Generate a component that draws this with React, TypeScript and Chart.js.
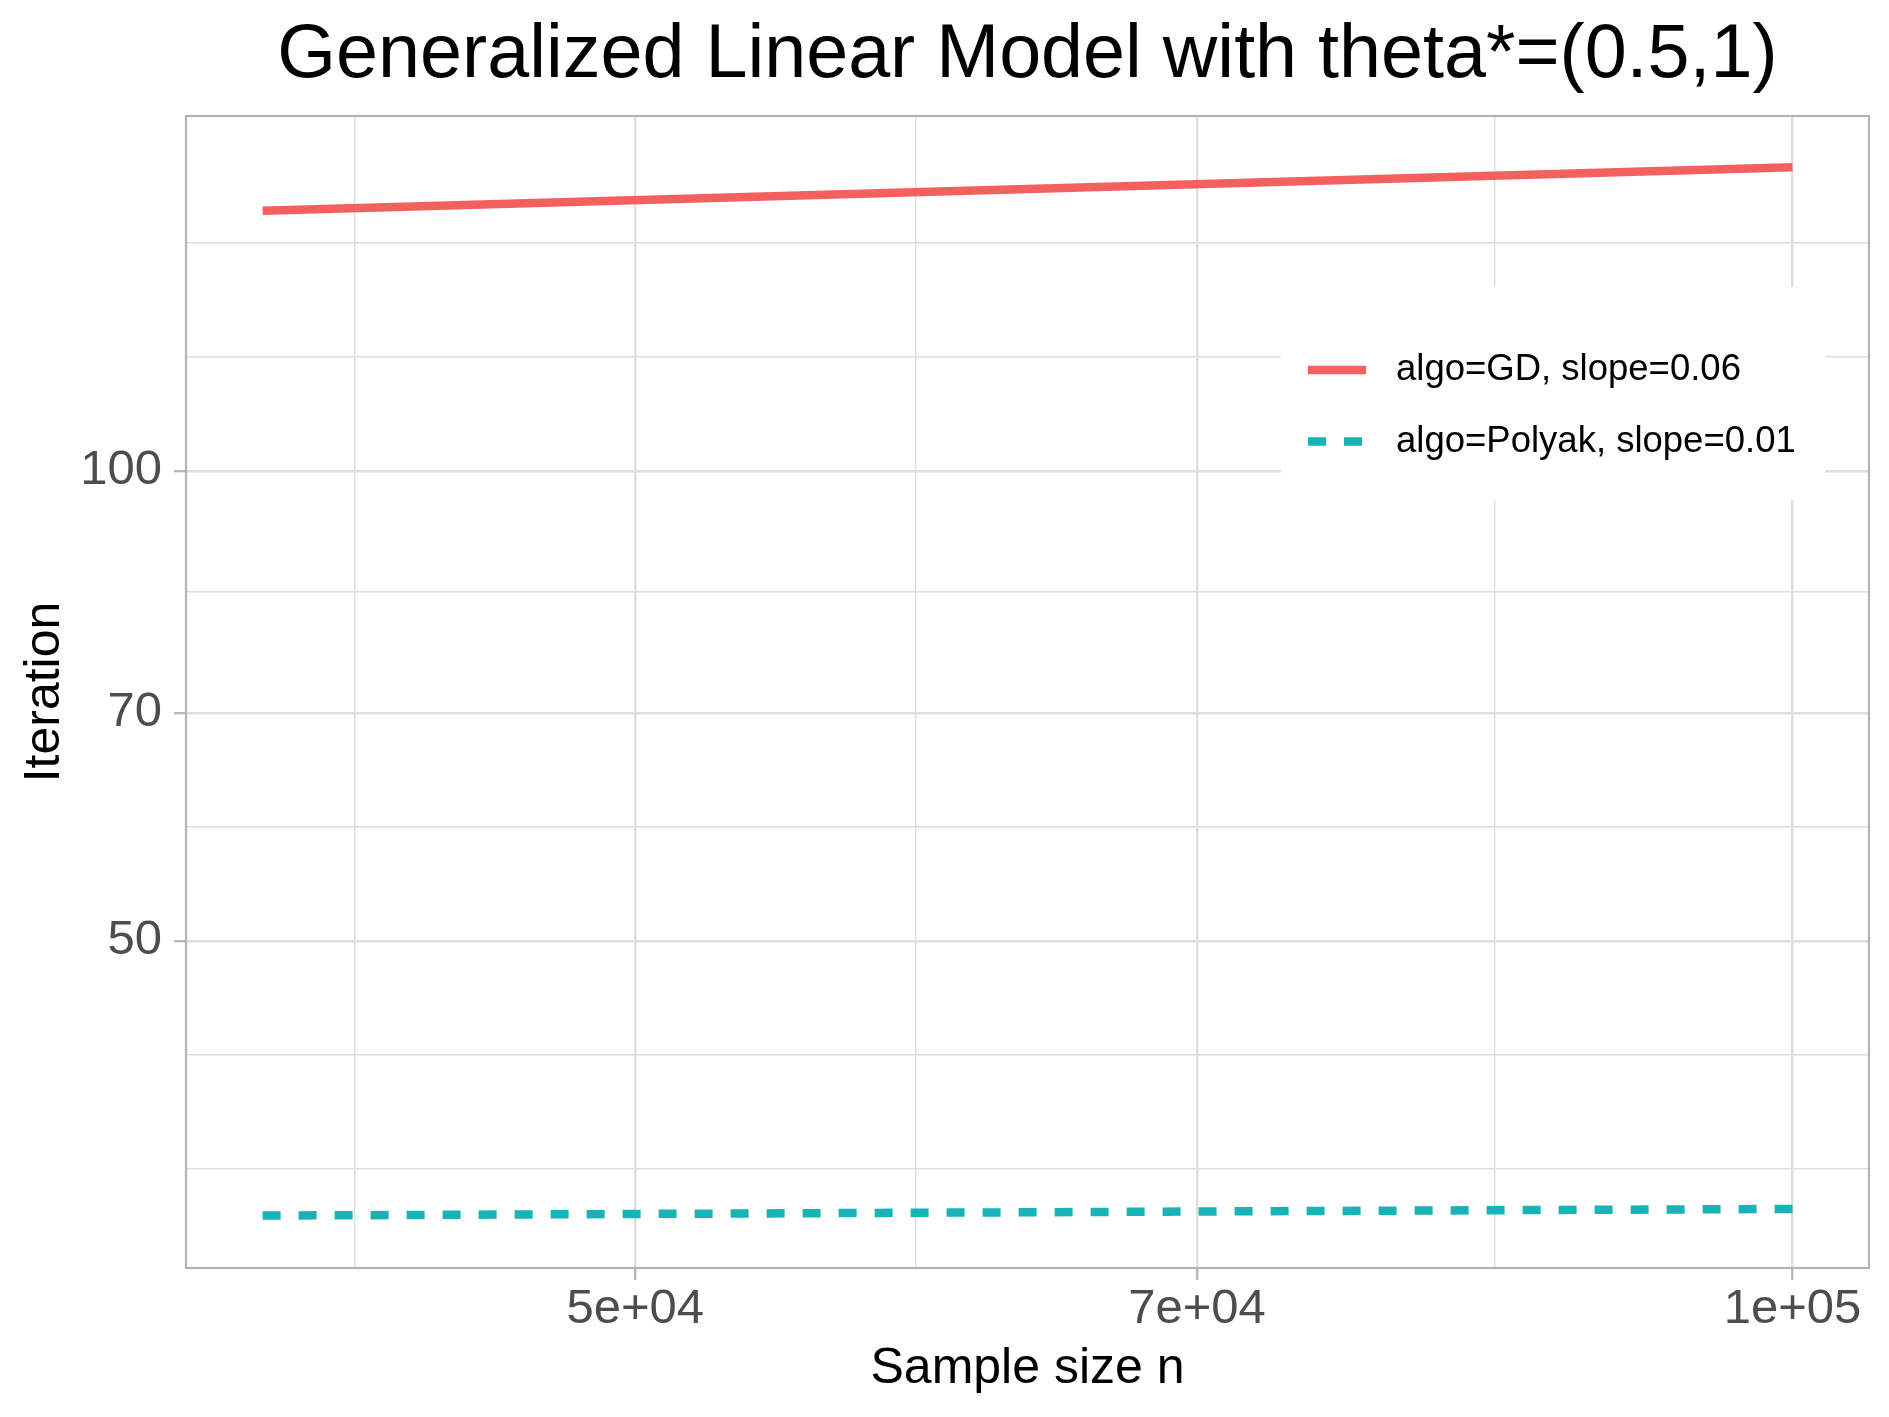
import React, { useEffect, useRef } from "react";
import { Chart, registerables } from "chart.js";

Chart.register(...registerables);

// ---------------- data ----------------
const sampleSizes = [40000, 100000];
const gdIterations = [146.8, 156.5];
const polyakIterations = [33.34, 33.67];

const seriesLabels = ["algo=GD, slope=0.06", "algo=Polyak, slope=0.01"];
const seriesColors = ["#F3615F", "#18B3B6"];

const chartTitle = "Generalized Linear Model with theta*=(0.5,1)";
const xAxisTitle = "Sample size n";
const yAxisTitle = "Iteration";

const xBreaks = [50000, 70000, 100000];
const xBreakLabels = ["5e+04", "7e+04", "1e+05"];
const yBreaks = [50, 70, 100];
const yBreakLabels = ["50", "70", "100"];

const xLimits = [38206, 104688];
const yLimits = [30.86, 168.8];

// ---------------- helpers ----------------
const FONT = "'Liberation Sans', Arial, Helvetica, sans-serif";

function sameVal(a: number, b: number) {
  return Math.abs(Math.log10(a) - Math.log10(b)) < 1e-7;
}

// ggplot2-style minor breaks in log10 space
function minorBreaks(breaks: number[], min: number, max: number) {
  let b = breaks.map((v) => Math.log10(v));
  const bd = b[1] - b[0];
  const lmin = Math.log10(min);
  const lmax = Math.log10(max);
  if (lmin < b[0]) b = [b[0] - bd, ...b];
  if (lmax > b[b.length - 1]) b = [...b, b[b.length - 1] + bd];
  const out: number[] = [];
  for (let i = 0; i < b.length - 1; i++) {
    out.push(b[i], (b[i] + b[i + 1]) / 2);
  }
  out.push(b[b.length - 1]);
  return out
    .map((v) => Math.pow(10, v))
    .filter((v) => v >= min && v <= max && !breaks.some((k) => sameVal(k, v)));
}

function allTicks(breaks: number[], min: number, max: number) {
  return [...minorBreaks(breaks, min, max), ...breaks].sort((a, b) => a - b);
}

function labelFor(value: number, breaks: number[], labels: string[]) {
  const i = breaks.findIndex((b) => sameVal(b, value));
  return i >= 0 ? labels[i] : "";
}

const GRID = "#DEDEDE";
const AXISGREY = "#B3B3B3";

function makeScale(
  breaks: number[],
  labels: string[],
  limits: number[],
  title: string,
  isX: boolean
) {
  const ticksList = allTicks(breaks, limits[0], limits[1]);
  const isMajor = (v: number) => breaks.some((b) => sameVal(b, v));
  return {
    type: "logarithmic" as const,
    position: isX ? ("bottom" as const) : ("left" as const),
    min: limits[0],
    max: limits[1],
    afterBuildTicks: (scale: any) => {
      scale.ticks = ticksList.map((v) => ({ value: v }));
    },
    afterFit: (scale: any) => {
      if (isX) scale.height = 149;
      else scale.width = 186;
    },
    border: { display: false },
    grid: {
      drawTicks: true,
      tickLength: 12,
      color: () => GRID,
      lineWidth: (ctx: any) => (ctx.tick && isMajor(ctx.tick.value) ? 2.4 : 1.4),
      tickColor: (ctx: any) =>
        ctx.tick && isMajor(ctx.tick.value) ? AXISGREY : "rgba(0,0,0,0)",
      tickWidth: 2.2,
    },
    ticks: {
      autoSkip: false,
      maxRotation: 0,
      minRotation: 0,
      padding: isX ? 0 : 12,
      color: "#4D4D4D",
      font: { size: 49, family: FONT },
      callback: (value: any) => labelFor(Number(value), breaks, labels),
    },
    title: {
      display: true,
      text: title,
      color: "#000000",
      font: { size: 50, family: FONT },
      padding: isX ? { top: 0, bottom: 18 } : { top: 15, bottom: 0 },
    },
  };
}

const panelBorder = {
  id: "panelBorder",
  afterDatasetsDraw(chart: any) {
    const { ctx, chartArea } = chart;
    ctx.save();
    ctx.strokeStyle = AXISGREY;
    ctx.lineWidth = 2.2;
    ctx.strokeRect(
      chartArea.left,
      chartArea.top,
      chartArea.right - chartArea.left,
      chartArea.bottom - chartArea.top
    );
    ctx.restore();
  },
};

const insideLegend = {
  id: "insideLegend",
  afterDraw(chart: any) {
    const { ctx } = chart;
    const box = { x: 1281, y: 287, w: 544, h: 213 };
    const keyX = 1308;
    const keyW = 58;
    const textX = 1396;
    const rowY = [370, 441.5];
    ctx.save();
    ctx.fillStyle = "#FFFFFF";
    ctx.fillRect(box.x, box.y, box.w, box.h);
    chart.data.datasets.forEach((ds: any, i: number) => {
      const cy = rowY[i];
      ctx.strokeStyle = ds.borderColor;
      ctx.lineWidth = ds.borderWidth;
      ctx.lineCap = "butt";
      ctx.setLineDash(ds.borderDash || []);
      ctx.beginPath();
      ctx.moveTo(keyX, cy);
      ctx.lineTo(keyX + keyW, cy);
      ctx.stroke();
      ctx.setLineDash([]);
      ctx.fillStyle = "#000000";
      ctx.font = `36.5px ${FONT}`;
      ctx.textAlign = "left";
      ctx.textBaseline = "middle";
      ctx.fillText(ds.label, textX, cy);
    });
    ctx.restore();
  },
};

export default function App() {
  const canvasRef = useRef<HTMLCanvasElement | null>(null);

  useEffect(() => {
    if (!canvasRef.current) return;
    const toPoints = (ys: number[]) => sampleSizes.map((x, i) => ({ x, y: ys[i] }));
    const chart = new Chart(canvasRef.current, {
      type: "line",
      data: {
        datasets: [
          {
            label: seriesLabels[0],
            data: toPoints(gdIterations),
            borderColor: seriesColors[0],
            backgroundColor: seriesColors[0],
            borderWidth: 8.5,
            borderCapStyle: "butt",
            pointRadius: 0,
            tension: 0,
          },
          {
            label: seriesLabels[1],
            data: toPoints(polyakIterations),
            borderColor: seriesColors[1],
            backgroundColor: seriesColors[1],
            borderWidth: 8.5,
            borderDash: [18, 18],
            borderCapStyle: "butt",
            pointRadius: 0,
            tension: 0,
          },
        ],
      },
      options: {
        responsive: false,
        animation: false,
        devicePixelRatio: 1,
        layout: { padding: { top: 0, right: 20, bottom: 0, left: 0 } },
        scales: {
          x: makeScale(xBreaks, xBreakLabels, xLimits, xAxisTitle, true) as any,
          y: makeScale(yBreaks, yBreakLabels, yLimits, yAxisTitle, false) as any,
        },
        plugins: {
          legend: { display: false },
          tooltip: { enabled: false },
          title: {
            display: true,
            text: chartTitle,
            color: "#000000",
            fullSize: false,
            font: { size: 75.5, family: FONT, weight: "normal" },
            padding: { top: 10.5, bottom: 14.9 },
          },
        },
      } as any,
      plugins: [panelBorder, insideLegend],
    });
    return () => chart.destroy();
  }, []);

  return (
    <div
      style={{
        position: "fixed",
        left: 0,
        top: 0,
        width: 1889,
        height: 1417,
        background: "#FFFFFF",
      }}
    >
      <canvas ref={canvasRef} width={1889} height={1417} style={{ display: "block" }} />
    </div>
  );
}
